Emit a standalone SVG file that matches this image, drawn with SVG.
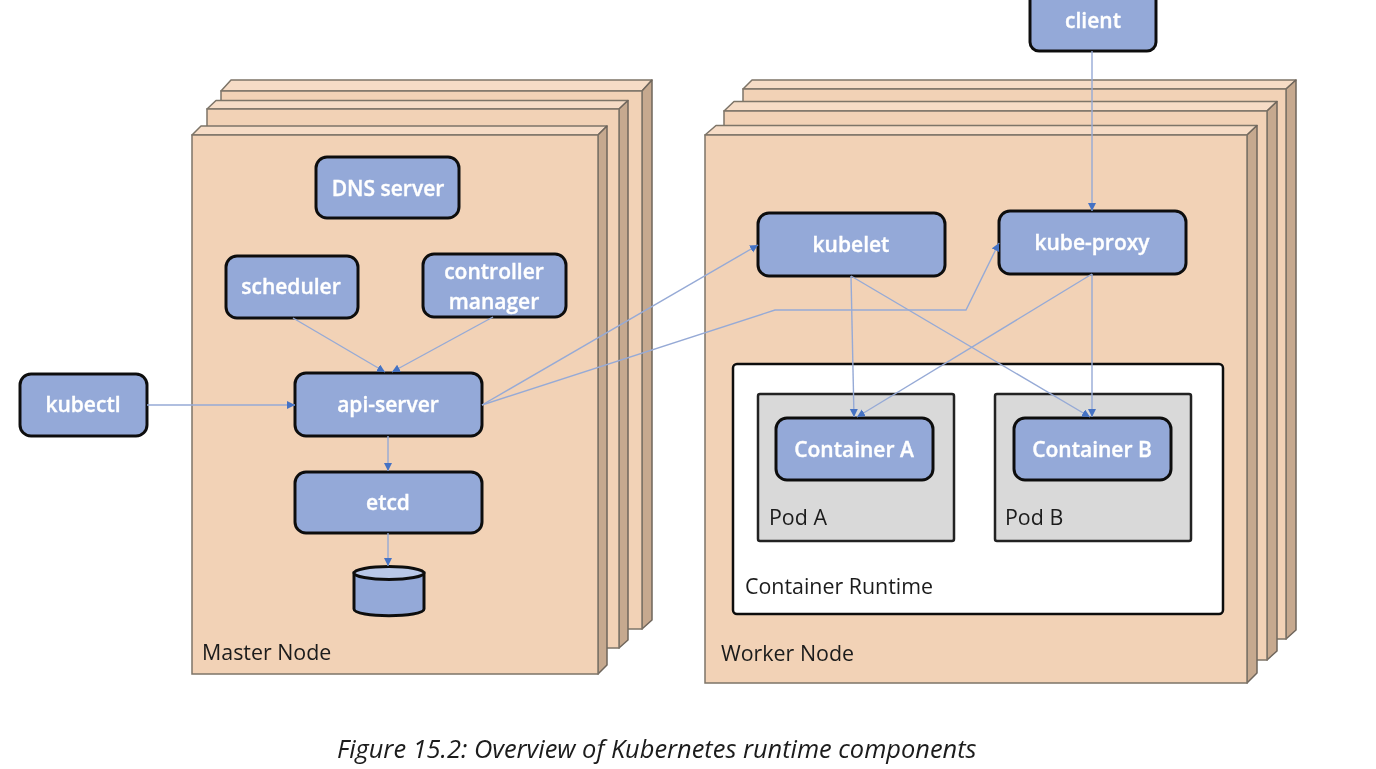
<svg xmlns="http://www.w3.org/2000/svg" width="1376" height="769" viewBox="0 0 1376 769">
<defs>
<marker id="arr" markerUnits="userSpaceOnUse" markerWidth="10" markerHeight="10" refX="8" refY="4" orient="auto"><path d="M0,0L8,4L0,8Z" fill="#4472c4"/></marker>
<filter id="soft" filterUnits="userSpaceOnUse" x="0" y="0" width="1376" height="769"><feGaussianBlur stdDeviation="0.45"/></filter>
</defs>
<style>
text{font-family:"Open Sans","Noto Sans","Liberation Sans",sans-serif}
.face{fill:#f2d2b6;stroke:#7d7468;stroke-width:1.5}
.top{fill:#f6dcc6;stroke:#7d7468;stroke-width:1.5;stroke-linejoin:round}
.side{fill:#c6a98f;stroke:#6f665c;stroke-width:1.5;stroke-linejoin:round}
.box{fill:#94a9d8;stroke:#111;stroke-width:3}
.lbl{fill:#fff;stroke:#fff;stroke-width:.35;font-size:21px;font-weight:600;text-anchor:middle}
.dark{fill:#1a1a1a;font-size:21.4px}
.pod{fill:#d9d9d9;stroke:#222;stroke-width:2.5}
.con{fill:none;stroke:#96aad6;stroke-width:1.4;marker-end:url(#arr)}
</style>
<g filter="url(#soft)">
<g id="master-node">
<path class="top" d="M221,91L231,80H652L642,91Z"/><path class="side" d="M642,91L652,80V620L642,629Z"/><rect class="face" x="221" y="91" width="421" height="538"/>
<path class="top" d="M207,109L216,100.500H628L619,109Z"/><path class="side" d="M619,109L628,100.500V640L619,648Z"/><rect class="face" x="207" y="109" width="412" height="539"/>
<path class="top" d="M192,135L201,126H607L598,135Z"/><path class="side" d="M598,135L607,126V665L598,674Z"/><rect class="face" x="192" y="135" width="406" height="539"/>
<text class="dark" x="202" y="660">Master Node</text>
</g>
<g id="worker-node">
<path class="top" d="M743,89L752,80H1296L1286,89Z"/><path class="side" d="M1286,89L1296,80V630L1286,639Z"/><rect class="face" x="743" y="89" width="543" height="550"/>
<path class="top" d="M724,111L734,101.500H1277L1267,111Z"/><path class="side" d="M1267,111L1277,101.500V651L1267,660Z"/><rect class="face" x="724" y="111" width="543" height="549"/>
<path class="top" d="M705,135L716,125.500H1257L1247,135Z"/><path class="side" d="M1247,135L1257,125.500V673L1247,683Z"/><rect class="face" x="705" y="135" width="542" height="548"/>
<text class="dark" x="721" y="661">Worker Node</text>
</g>
<g id="container-runtime">
<rect x="733" y="364" width="490" height="250" rx="4" fill="#fff" stroke="#111" stroke-width="2.500"/>
<text class="dark" x="745" y="594">Container Runtime</text>
</g>
<g id="pod-a"><rect class="pod" x="758" y="394" width="196" height="147" rx="2"/><text class="dark" x="769" y="525">Pod A</text></g>
<g id="pod-b"><rect class="pod" x="995" y="394" width="196" height="147" rx="2"/><text class="dark" x="1005" y="525">Pod B</text></g>
<g id="dns-server"><rect class="box" x="316" y="157" width="143" height="61" rx="11"/><text class="lbl" x="388" y="196">DNS server</text></g>
<g id="scheduler"><rect class="box" x="226" y="256" width="132" height="62" rx="11"/><text class="lbl" x="291" y="294">scheduler</text></g>
<g id="controller-manager"><rect class="box" x="423" y="254" width="143" height="63" rx="11"/><text class="lbl" x="494" y="279">controller</text><text class="lbl" x="494" y="309">manager</text></g>
<g id="api-server"><rect class="box" x="295" y="373" width="187" height="63" rx="11"/><text class="lbl" x="388" y="412">api-server</text></g>
<g id="etcd"><rect class="box" x="295" y="472" width="187" height="61" rx="11"/><text class="lbl" x="388" y="510">etcd</text></g>
<g id="storage"><path d="M354,573V609C354,618 424,618 424,609V573Z" fill="#94a9d8" stroke="#111" stroke-width="3"/><ellipse cx="389" cy="573" rx="35" ry="6.500" fill="#b9c8e8" stroke="#111" stroke-width="3"/></g>
<g id="kubectl"><rect class="box" x="20" y="374" width="127" height="62" rx="11"/><text class="lbl" x="83" y="412">kubectl</text></g>
<g id="client"><rect class="box" x="1030" y="-12" width="126" height="63" rx="9"/><text class="lbl" x="1093" y="28">client</text></g>
<g id="kubelet"><rect class="box" x="758" y="213" width="187" height="63" rx="11"/><text class="lbl" x="851" y="252">kubelet</text></g>
<g id="kube-proxy"><rect class="box" x="999" y="211" width="187" height="63" rx="11"/><text class="lbl" x="1092" y="250">kube-proxy</text></g>
<g id="container-a"><rect class="box" x="776" y="418" width="157" height="62" rx="11"/><text class="lbl" x="854" y="457">Container A</text></g>
<g id="container-b"><rect class="box" x="1014" y="418" width="157" height="62" rx="11"/><text class="lbl" x="1092" y="457">Container B</text></g>
<g id="connectors">
<path class="con" d="M293,318L385,372"/>
<path class="con" d="M493,317L392,372"/>
<path class="con" d="M147,405H295"/>
<path class="con" d="M388,436V471"/>
<path class="con" d="M388,533V566"/>
<path class="con" d="M482,405L758,245"/>
<path class="con" d="M482,405L775,310H966L999,243"/>
<path class="con" d="M1092,51V211"/>
<path class="con" d="M851,276L854,417"/>
<path class="con" d="M851,276L1090,417"/>
<path class="con" d="M1092,274L857,417"/>
<path class="con" d="M1092,274V417"/>
</g>
<text x="337" y="758" font-size="25.4" font-style="italic" fill="#1a1a1a">Figure 15.2: Overview of Kubernetes runtime components</text>
</g>
</svg>
